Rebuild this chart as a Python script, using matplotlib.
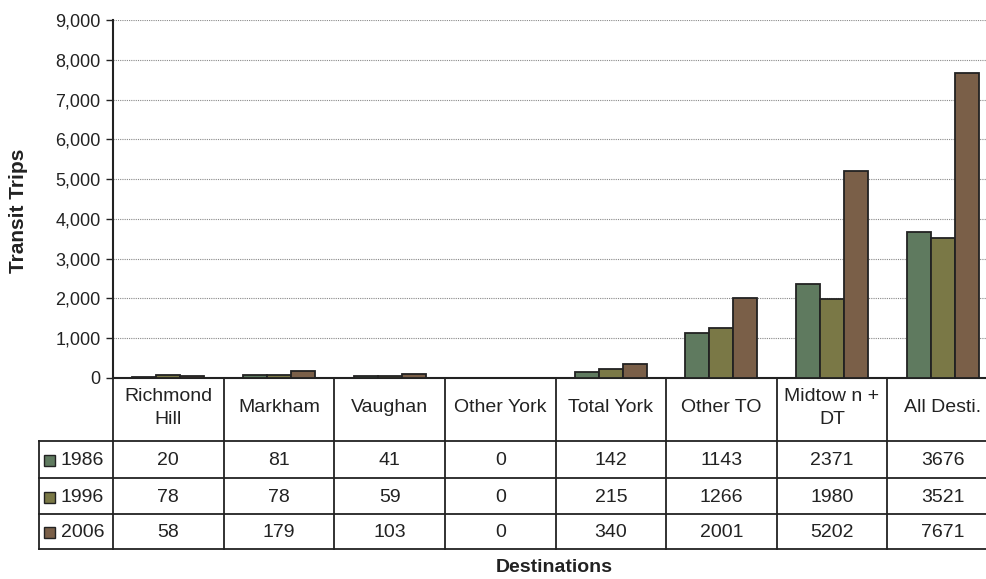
import numpy as np
import matplotlib
matplotlib.use("Agg")
import matplotlib.pyplot as plt
from matplotlib.lines import Line2D
from matplotlib.patches import Rectangle
from matplotlib.ticker import FuncFormatter
import matplotlib.transforms as mtransforms

plt.rcParams['font.family'] = ['Liberation Sans', 'DejaVu Sans']

categories = ['Richmond\nHill', 'Markham', 'Vaughan', 'Other York', 'Total York',
              'Other TO', 'Midtow n +\nDT', 'All Desti.']
years = ['1986', '1996', '2006']
v1986 = [20, 81, 41, 0, 142, 1143, 2371, 3676]
v1996 = [78, 78, 59, 0, 215, 1266, 1980, 3521]
v2006 = [58, 179, 103, 0, 340, 2001, 5202, 7671]
series = [v1986, v1996, v2006]
colors = ['#5F7A5F', '#7A7846', '#7A5F48']

W, H = 987, 579
fig = plt.figure(figsize=(W / 100, H / 100), dpi=100)
ax = fig.add_axes([113 / W, 1 - 378 / H, (998 - 113) / W, (378 - 20) / H])

x = np.arange(len(categories))
bw = 0.217
for i, (vals, c) in enumerate(zip(series, colors)):
    ax.bar(x + (i - 1) * bw, vals, bw, color=c, edgecolor='#222222', linewidth=1.3, zorder=3)

ax.set_xlim(-0.5, len(categories) - 0.5)
ax.set_ylim(0, 9000)
ax.set_yticks(np.arange(0, 9001, 1000))
ax.yaxis.set_major_formatter(FuncFormatter(lambda v, p: f'{int(v):,}'))
ax.tick_params(axis='y', direction='out', length=5, width=1, labelsize=13, pad=4,
               color='#222222', labelcolor='#222222')
ax.set_xticks([])
ax.grid(axis='y', color='#888888', linestyle=(0, (1, 1)), linewidth=0.8, zorder=0)
for s in ['top', 'right']:
    ax.spines[s].set_visible(False)
for s in ['left', 'bottom']:
    ax.spines[s].set_linewidth(1.5)
    ax.spines[s].set_color('#222222')

fig.text(19 / W, 1 - 211 / H, 'Transit Trips', rotation=90, ha='center', va='center',
         fontsize=15, fontweight='bold', color='#222222')

# data table under the plot
tr = mtransforms.blended_transform_factory(ax.transData, fig.transFigure)
fy = lambda p: 1 - p / H
xl = -0.5 - (113 - 39) / 110.6
xr = len(categories) - 0.5
y_head, rows_y = 378, [441, 478, 514, 549]
lc = '#222222'
for k in range(len(categories) + 1):
    fig.add_artist(Line2D([k - 0.5, k - 0.5], [fy(y_head), fy(549)], transform=tr, color=lc, lw=1.3))
fig.add_artist(Line2D([xl, xl], [fy(441), fy(549)], transform=tr, color=lc, lw=1.3))
for yy in rows_y:
    fig.add_artist(Line2D([xl, xr], [fy(yy), fy(yy)], transform=tr, color=lc, lw=1.3))

for i, cat in enumerate(categories):
    fig.text(i, fy(408), cat, transform=tr, ha='center', va='center',
             fontsize=14, linespacing=1.45, color='#222222')

for r, (yr, vals, c) in enumerate(zip(years, series, colors)):
    yc = fy((rows_y[r] + rows_y[r + 1]) / 2 + 1)
    for i, v in enumerate(vals):
        fig.text(i, yc, str(v), transform=tr, ha='center', va='center', fontsize=14, color='#222222')
    fig.add_artist(Rectangle((44 / W, yc - 5.5 / H), 11 / W, 11 / H, transform=fig.transFigure,
                             facecolor=c, edgecolor=lc, lw=1))
    fig.text(61 / W, yc, yr, ha='left', va='center', fontsize=14, color='#222222')

fig.text(554 / W, fy(568), 'Destinations', ha='center', va='center', fontsize=14,
         fontweight='bold', color='#222222')

fig.savefig('out.png', dpi=100)
